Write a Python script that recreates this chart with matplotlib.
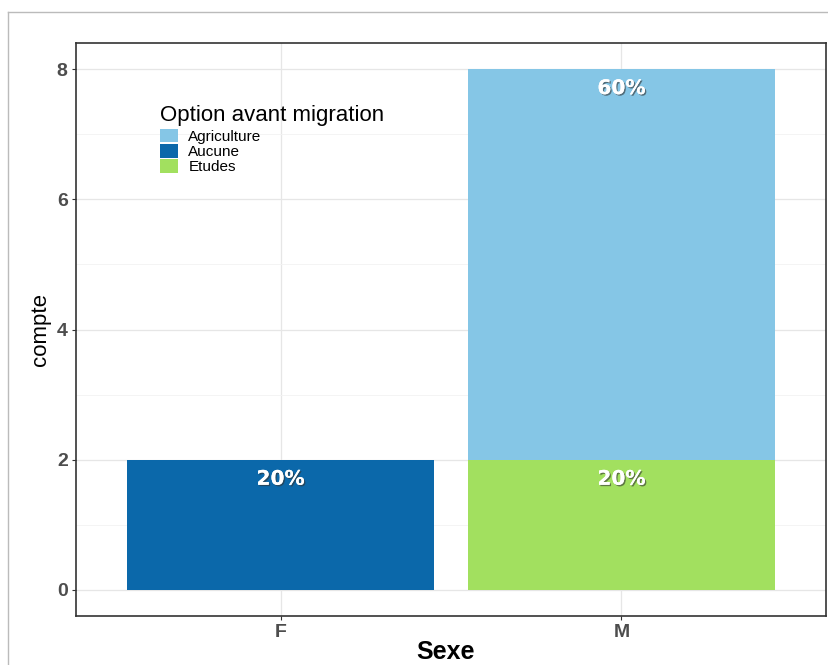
import numpy as np
import matplotlib
matplotlib.use('Agg')
import matplotlib.pyplot as plt
from matplotlib.patches import Patch
from matplotlib.lines import Line2D
import matplotlib.patheffects as pe

sexes = ['F', 'M']
options = ['Agriculture', 'Aucune', 'Etudes']
agriculture = [0, 6]
aucune = [2, 0]
etudes = [0, 2]
colors = {'Agriculture': '#85c6e6', 'Aucune': '#0b68aa', 'Etudes': '#a2e05f'}

plt.rcParams['font.family'] = ['Liberation Sans', 'DejaVu Sans']

W, H = 829, 665
fig = plt.figure(figsize=(W / 100, H / 100), dpi=100)
ax = fig.add_axes([76 / W, 1 - 616 / H, 750 / W, 573 / H])

x = np.arange(1, len(sexes) + 1)
total = sum(agriculture) + sum(aucune) + sum(etudes)

# stack order bottom -> top: Etudes, Aucune, Agriculture
bottom = np.zeros(len(sexes))
for name, vals in [('Etudes', etudes), ('Aucune', aucune), ('Agriculture', agriculture)]:
    vals = np.array(vals, dtype=float)
    ax.bar(x, vals, bottom=bottom, width=0.9, color=colors[name], zorder=2)
    for xi, v, b in zip(x, vals, bottom):
        if v > 0:
            ax.text(xi, b + v - 0.3, f"{v / total * 100:.0f}%", ha='center', va='center',
                    color='white', fontsize=14.5, fontweight='bold', family='DejaVu Sans',
                    zorder=3,
                    path_effects=[pe.withSimplePatchShadow(offset=(1, -1), shadow_rgbFace='#333333', alpha=0.6),
                                  pe.Normal()])
    bottom += vals

ax.set_xlim(0.4, 2.6)
ax.set_ylim(-0.4, 8.4)
ax.set_xticks(x)
ax.set_xticklabels(sexes)
ax.set_yticks([0, 2, 4, 6, 8])
ax.set_yticks([1, 3, 5, 7], minor=True)
ax.grid(which='major', color='#e6e6e6', linewidth=0.9, zorder=0)
ax.grid(which='minor', axis='y', color='#f2f2f2', linewidth=0.6, zorder=0)
ax.set_axisbelow(True)
ax.tick_params(which='major', length=3, color='#333333', labelsize=14, labelcolor='#4d4d4d', pad=3)
ax.tick_params(which='minor', length=0)
for lbl in ax.get_xticklabels() + ax.get_yticklabels():
    lbl.set_fontweight('bold')
for s in ax.spines.values():
    s.set_color('#333333')
    s.set_linewidth(1.2)

ax.set_ylabel('compte', fontsize=16, labelpad=4)
fig.text(446 / W, 1 / H, 'Sexe', ha='center', va='bottom', fontsize=18, fontweight='bold')

handles = [Patch(facecolor=colors[o], edgecolor='none') for o in options]
leg = ax.legend(handles, options, title='Option avant migration', loc='upper left',
                bbox_to_anchor=((160 - 76) / 750, (616 - 105) / 573), frameon=False, fontsize=11,
                title_fontsize=16, handlelength=1.15, handleheight=1.0,
                labelspacing=0.0, handletextpad=0.7, borderaxespad=0, borderpad=0)
leg._legend_box.align = 'left'
leg._legend_box.sep = 2

# outer frame lines
fig.add_artist(Line2D([8 / W, 8 / W], [0, 1 - 12 / H], color='#bbbbbb', linewidth=1))
fig.add_artist(Line2D([8 / W, 1], [1 - 12 / H, 1 - 12 / H], color='#bbbbbb', linewidth=1))

fig.savefig('out.png', dpi=100)
